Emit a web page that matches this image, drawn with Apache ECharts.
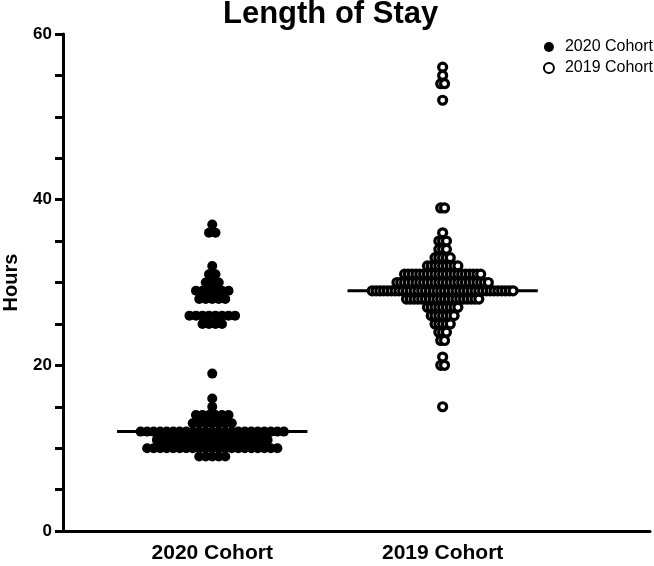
<!DOCTYPE html>
<html>
<head>
<meta charset="utf-8">
<script src="https://cdn.jsdelivr.net/npm/echarts@6/dist/echarts.min.js"></script>
<style>
  html, body { margin: 0; padding: 0; background: #fff; }
  #chart { width: 654px; height: 566px; }
</style>
</head>
<body>
<div id="chart"></div>
<script>
// values: hours and how many patients sit on each row
const categories = ['2020 Cohort', '2019 Cohort']
const hours2020 = [37, 36, 32, 31, 30, 29, 28, 26, 25, 19, 16, 15, 14, 13, 12, 11, 10, 9]
const counts2020 = [1, 2, 1, 2, 3, 6, 5, 8, 4, 1, 1, 1, 6, 7, 23, 18, 21, 5]
const hours2019 = [56, 55, 54, 52, 39, 36, 35, 34, 33, 32, 31, 30, 29, 28, 27, 26, 25, 24, 23, 21, 20, 15]
const counts2019 = [1, 1, 2, 1, 2, 1, 3, 3, 5, 9, 21, 25, 38, 20, 9, 7, 5, 3, 2, 1, 2, 1]
const medians = [12, 29]
const yTicks = [0, 20, 40, 60]

const FONT = '"Liberation Sans", Arial, sans-serif'
const PX_PER_UNIT = 230
const X_MIN = 1 - 149 / PX_PER_UNIT
const X_MAX = X_MIN + 586 / PX_PER_UNIT

// simple beeswarm: spread each row symmetrically around its category centre
function swarm(center, hours, counts, pitchPx) {
  const pts = []
  hours.forEach((h, i) => {
    const n = counts[i]
    for (let k = 0; k < n; k++) {
      const off = (k - (n - 1) / 2) * pitchPx / PX_PER_UNIT
      pts.push([center + off, h])
    }
  })
  return pts
}

const medianHalf = 95 / PX_PER_UNIT
const medianData = []
medians.forEach((m, i) => {
  medianData.push([i + 1 - medianHalf, m], [i + 1 + medianHalf, m], null)
})

const chart = echarts.init(document.getElementById('chart'))
chart.setOption({
  animation: false,
  title: {
    text: 'Length of Stay',
    left: 218,
    top: -6,
    textStyle: { fontFamily: FONT, fontSize: 31, fontWeight: 'bold', color: '#000' }
  },
  legend: {
    data: ['2020 Cohort', '2019 Cohort'],
    orient: 'vertical',
    right: -4,
    top: 34,
    itemGap: 5,
    itemWidth: 22,
    itemHeight: 10,
    textStyle: { fontFamily: FONT, fontSize: 16, color: '#000' }
  },
  grid: { left: 63, right: 4, top: 34, bottom: 35, outerBoundsMode: 'none' },
  xAxis: {
    type: 'value',
    min: X_MIN,
    max: X_MAX,
    splitLine: { show: false },
    axisLine: { lineStyle: { color: '#000', width: 3 } },
    axisTick: { show: false },
    axisLabel: {
      customValues: [1, 2],
      formatter: v => categories[Math.round(v) - 1],
      margin: 12,
      fontFamily: FONT,
      fontSize: 21,
      fontWeight: 'bold',
      color: '#000'
    }
  },
  yAxis: {
    type: 'value',
    min: 0,
    max: 60,
    interval: 20,
    name: 'Hours',
    nameLocation: 'middle',
    nameGap: 42,
    nameTextStyle: { fontFamily: FONT, fontSize: 20, fontWeight: 'bold', color: '#000' },
    splitLine: { show: false },
    axisLine: { show: true, lineStyle: { color: '#000', width: 3 } },
    axisTick: { show: true, length: 8, lineStyle: { color: '#000', width: 3 } },
    minorTick: { show: true, splitNumber: 4, length: 8, lineStyle: { color: '#000', width: 3 } },
    axisLabel: {
      margin: 11,
      fontFamily: FONT,
      fontSize: 17,
      fontWeight: 'bold',
      color: '#000',
      formatter: v => (yTicks.includes(v) ? String(v) : '')
    }
  },
  series: [
    {
      name: 'median',
      type: 'line',
      data: medianData,
      symbol: 'none',
      z: 1,
      lineStyle: { color: '#000', width: 3 },
      connectNulls: false
    },
    {
      name: '2020 Cohort',
      type: 'scatter',
      data: swarm(1, hours2020, counts2020, 6.5),
      symbol: 'circle',
      symbolSize: 10,
      z: 2,
      itemStyle: { color: '#000', opacity: 1 }
    },
    {
      name: '2019 Cohort',
      type: 'scatter',
      data: swarm(2, hours2019, counts2019, 3.8),
      symbol: 'circle',
      symbolSize: 8,
      z: 2,
      itemStyle: { color: '#fff', borderColor: '#000', borderWidth: 3.2, opacity: 1 }
    }
  ]
})
</script>
</body>
</html>
